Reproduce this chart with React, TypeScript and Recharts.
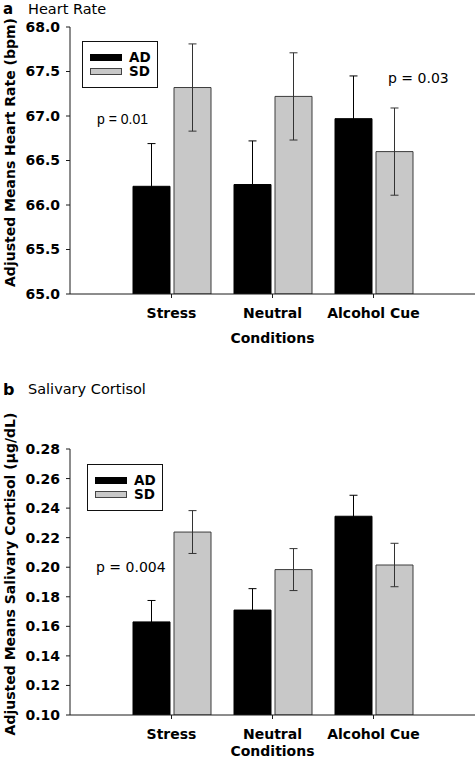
import React from 'react';
import { BarChart, Bar, XAxis, YAxis, ErrorBar, Legend } from 'recharts';

// categories and values
const conditions = ['Stress', 'Neutral', 'Alcohol Cue'];

const hrAD = [66.21, 66.23, 66.97];
const hrSD = [67.32, 67.22, 66.6];
const hrADErr = [0.48, 0.49, 0.48];
const hrSDErr = [0.49, 0.49, 0.49];
const hrTicks = [65, 65.5, 66, 66.5, 67, 67.5, 68];

const cortAD = [0.163, 0.171, 0.2345];
const cortSD = [0.2238, 0.1984, 0.2015];
const cortADErr = [0.0145, 0.0145, 0.0142];
const cortSDErr = [0.0145, 0.0142, 0.0147];
const cortTicks = [0.1, 0.12, 0.14, 0.16, 0.18, 0.2, 0.22, 0.24, 0.26, 0.28];

const hrData = conditions.map((c, i) => ({
  condition: c,
  AD: hrAD[i],
  SD: hrSD[i],
  adErr: hrADErr[i],
  sdErr: hrSDErr[i],
}));

const cortData = conditions.map((c, i) => ({
  condition: c,
  AD: cortAD[i],
  SD: cortSD[i],
  adErr: cortADErr[i],
  sdErr: cortSDErr[i],
}));

const FONT = '"DejaVu Sans", sans-serif';
const AXIS = '#1a1a1a';
const tickStyle = { fontSize: 14, fontWeight: 'bold', fill: '#000', fontFamily: FONT };

const YLabel = (props: any) => {
  const { viewBox, value } = props;
  const cx = viewBox.x + 10;
  const cy = viewBox.y + viewBox.height / 2 - 8;
  return (
    <text
      x={cx}
      y={cy}
      transform={`rotate(-90 ${cx} ${cy})`}
      textAnchor="middle"
      dominantBaseline="central"
      fontFamily={FONT}
      fontWeight="bold"
      fontSize={14}
      fill="#000"
    >
      {value}
    </text>
  );
};

const renderLegend = (props: any) => {
  const { payload } = props;
  return (
    <div
      style={{
        width: 76,
        height: 47,
        boxSizing: 'border-box',
        border: '1px solid #111',
        background: '#fff',
        paddingTop: 8,
        fontFamily: FONT,
      }}
    >
      {(payload || []).map((entry: any) => (
        <div key={entry.value} style={{ display: 'flex', alignItems: 'center', height: 14.5 }}>
          <div
            style={{
              marginLeft: 7,
              width: 32,
              height: 7,
              boxSizing: 'border-box',
              background: entry.color,
              border: entry.value === 'SD' ? '1px solid #444' : 'none',
            }}
          />
          <span
            style={{
              display: 'inline-block',
              marginLeft: 7,
              height: 13,
              fontSize: 13.5,
              fontWeight: 'bold',
              lineHeight: '13px',
            }}
          >
            {entry.value}
          </span>
        </div>
      ))}
    </div>
  );
};

interface PanelProps {
  data: any[];
  ticks: number[];
  domain: [number, number];
  digits: number;
  yLabel: string;
  height: number;
  marginTop: number;
  marginBottom: number;
  xAxisHeight: number;
  condOffset: number;
  legendPos: { left: number; top: number };
}

const Panel: React.FC<PanelProps> = ({
  data,
  ticks,
  domain,
  digits,
  yLabel,
  height,
  marginTop,
  marginBottom,
  xAxisHeight,
  condOffset,
  legendPos,
}) => (
  <BarChart
    width={476}
    height={height}
    data={data}
    margin={{ top: marginTop, right: 1, bottom: marginBottom, left: 0 }}
    barSize={37}
    barGap={4}
  >
    <XAxis
      dataKey="condition"
      height={xAxisHeight}
      padding={{ left: 51, right: 51 }}
      axisLine={{ stroke: AXIS }}
      tickLine={{ stroke: AXIS }}
      tickSize={4}
      tickMargin={10}
      tick={tickStyle}
      interval={0}
      label={{
        value: 'Conditions',
        position: 'insideBottom',
        offset: condOffset,
        style: { fontSize: 14, fontWeight: 'bold', fill: '#000', fontFamily: FONT },
      }}
    />
    <XAxis xAxisId="top" orientation="top" height={0} tick={false} tickLine={false} axisLine={{ stroke: AXIS }} />
    <YAxis
      type="number"
      domain={domain}
      ticks={ticks}
      interval={0}
      width={70}
      axisLine={{ stroke: AXIS }}
      tickLine={{ stroke: AXIS }}
      tickSize={4}
      tickMargin={6}
      tick={tickStyle}
      tickFormatter={(v: number) => v.toFixed(digits)}
      allowDataOverflow
      label={<YLabel value={yLabel} />}
    />
    <YAxis yAxisId="right" orientation="right" width={0} tick={false} tickLine={false} axisLine={{ stroke: AXIS }} />
    <Legend
      layout="horizontal"
      verticalAlign="middle"
      align="center"
      wrapperStyle={{ left: legendPos.left, top: legendPos.top, width: 76, height: 47 }}
      content={renderLegend}
    />
    <Bar dataKey="AD" name="AD" fill="#000" stroke="#000" isAnimationActive={false}>
      <ErrorBar dataKey="adErr" width={4} stroke="#000" strokeWidth={1} direction="y" />
    </Bar>
    <Bar dataKey="SD" name="SD" fill="#c8c8c8" stroke="#3c3c3c" strokeWidth={1} isAnimationActive={false}>
      <ErrorBar dataKey="sdErr" width={4} stroke="#333" strokeWidth={1} direction="y" />
    </Bar>
  </BarChart>
);

export default function App() {
  return (
    <div style={{ position: 'absolute', left: 0, top: 0, width: 476, height: 764, background: '#fff', overflow: 'hidden' }}>
      <div style={{ position: 'absolute', left: 0, top: 0 }}>
        <Panel
          data={hrData}
          ticks={hrTicks}
          domain={[65, 68]}
          digits={1}
          yLabel="Adjusted Means Heart Rate (bpm)"
          height={370}
          marginTop={27}
          marginBottom={26}
          xAxisHeight={50}
          condOffset={1}
          legendPos={{ left: 82, top: 41 }}
        />
      </div>
      <div style={{ position: 'absolute', left: 0, top: 370 }}>
        <Panel
          data={cortData}
          ticks={cortTicks}
          domain={[0.1, 0.28]}
          digits={2}
          yLabel="Adjusted Means Salivary Cortisol (µg/dL)"
          height={394}
          marginTop={79}
          marginBottom={0}
          xAxisHeight={49}
          condOffset={8}
          legendPos={{ left: 87, top: 94 }}
        />
      </div>
      <svg
        width={476}
        height={764}
        style={{ position: 'absolute', left: 0, top: 0, pointerEvents: 'none' }}
      >
        <text x={3} y={14} fontFamily={FONT} fontWeight="bold" fontSize={15}>a</text>
        <text x={28} y={14} fontFamily={FONT} fontSize={14.5}>Heart Rate</text>
        <text x={97} y={124} fontFamily='"Liberation Sans", Arial, sans-serif' fontSize={14}>p = 0.01</text>
        <text x={388} y={83} fontFamily={FONT} fontSize={14}>p = 0.03</text>
        <text x={3} y={395} fontFamily={FONT} fontWeight="bold" fontSize={16}>b</text>
        <text x={28} y={394} fontFamily={FONT} fontSize={14.5}>Salivary Cortisol</text>
        <text x={96} y={572} fontFamily={FONT} fontSize={14}>p = 0.004</text>
      </svg>
    </div>
  );
}
